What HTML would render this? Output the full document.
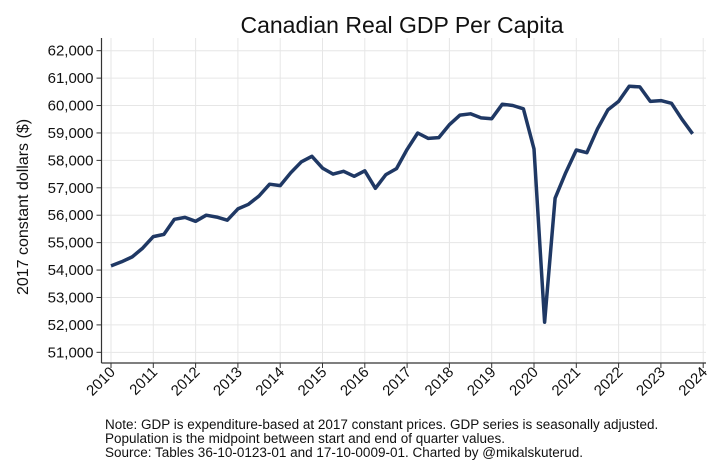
<!DOCTYPE html>
<html><head><meta charset="utf-8"><style>
body{margin:0;background:#fff;font-family:"Liberation Sans",sans-serif}
svg{display:block}
</style></head><body>
<svg id="c" width="723" height="464" xmlns="http://www.w3.org/2000/svg">
<text x="402" y="33" font-size="23" text-anchor="middle" fill="#111">Canadian Real GDP Per Capita</text>
<text transform="translate(28,207) rotate(-90)" font-size="16" text-anchor="middle" fill="#111">2017 constant dollars ($)</text>
<g id="grid"></g><g id="axes"></g><g id="series"></g>
<g font-size="13.5" fill="#111">
<text x="105" y="429">Note: GDP is expenditure-based at 2017 constant prices. GDP series is seasonally adjusted.</text>
<text x="105" y="443">Population is the midpoint between start and end of quarter values.</text>
<text x="105" y="457">Source: Tables 36-10-0123-01 and 17-10-0009-01. Charted by @mikalskuterud.</text>
</g>
</svg>
<script>
const yTicks=[51000,52000,53000,54000,55000,56000,57000,58000,59000,60000,61000,62000];
const xTicks=[2010,2011,2012,2013,2014,2015,2016,2017,2018,2019,2020,2021,2022,2023,2024];
const gdp=[54150,54300,54480,54800,55220,55300,55850,55920,55780,56000,55930,55820,56230,56400,56700,57130,57080,57550,57950,58150,57720,57500,57600,57420,57620,56980,57480,57700,58400,59000,58800,58830,59300,59650,59700,59550,59520,60050,60000,59880,58420,52100,56620,57550,58380,58280,59150,59850,60150,60700,60680,60150,60180,60080,59500,58970];
const NS="http://www.w3.org/2000/svg";
const L=101.5,R=706,T=38,B=363;
const xs=v=>111+(v-2010)*42.3;
const ys=v=>50.7+(62000-v)*0.02742;
function mk(tag,at,par){const e=document.createElementNS(NS,tag);for(const k in at)e.setAttribute(k,at[k]);document.getElementById(par).appendChild(e);return e;}
yTicks.forEach(v=>{
 const g=mk('line',{x1:L,x2:R,y1:ys(v),y2:ys(v),stroke:'#e6e6e6','stroke-width':1},'grid');
 
 
 mk('line',{x1:L-5,x2:L,y1:ys(v),y2:ys(v),stroke:'#333'},'axes');
 const t=mk('text',{x:L-8,y:ys(v)+5,'font-size':15,'text-anchor':'end',fill:'#111'},'axes');
 t.textContent=v.toLocaleString('en-US');
 
 
});
xTicks.forEach(v=>{
 const g=mk('line',{x1:xs(v),x2:xs(v),y1:T,y2:B,stroke:'#e6e6e6','stroke-width':1},'grid');
 
 
 mk('line',{x1:xs(v),x2:xs(v),y1:B,y2:B+5,stroke:'#333'},'axes');
 const t=mk('text',{transform:`translate(${xs(v)+5},${B+10}) rotate(-45)`,'font-size':15,'text-anchor':'end',fill:'#111'},'axes');
 t.textContent=v;
 
 
});
const ya=mk('line',{x1:L,x2:L,y1:T,y2:B,stroke:'#333','stroke-width':1.2},'axes');


const xa=mk('line',{x1:L,x2:R,y1:B,y2:B,stroke:'#333','stroke-width':1.2},'axes');


const pts=gdp.map((v,i)=>xs(2010+i/4).toFixed(1)+','+ys(v).toFixed(1)).join(' ');
const p=mk('polyline',{points:pts,fill:'none',stroke:'#1f3864','stroke-width':3.5,'stroke-linejoin':'round'},'series');


</script>
</body></html>
